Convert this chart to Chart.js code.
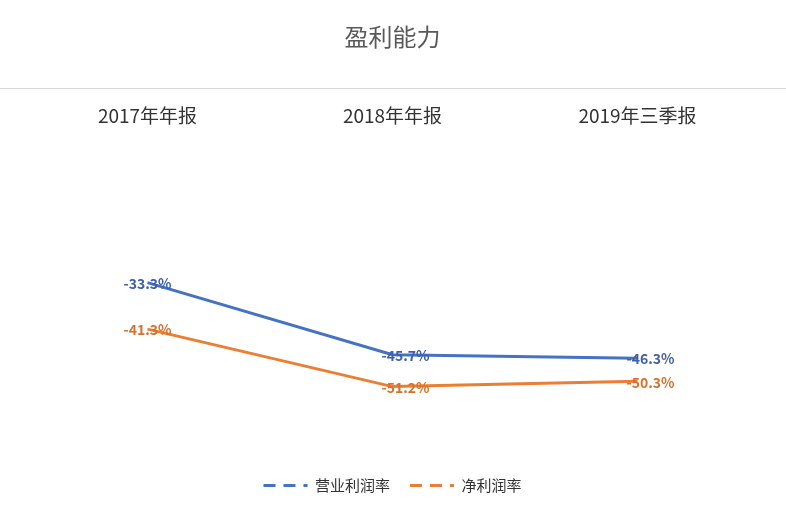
<!DOCTYPE html>
<html><head><meta charset="utf-8">
<script src="https://cdn.jsdelivr.net/npm/chart.js@4"></script>
<style>body{margin:0;background:#fff}#wrap{width:786px;height:513px}</style>
</head><body><div id="wrap"><canvas id="c"></canvas></div>
<script>
const categories = ['2017年年报', '2018年年报', '2019年三季报'];
const operatingMargin = [-33.3, -45.7, -46.3];
const netMargin = [-41.3, -51.2, -50.3];
const FONT = '"Noto Sans CJK SC", "Noto Sans", sans-serif';

// draw value labels centred on each point, plus the rule under the title
const valueLabels = {
    id: 'valueLabels',
    afterDatasetsDraw(chart) {
        const ctx = chart.ctx;
        ctx.save();
        ctx.strokeStyle = '#d9d9d9';
        ctx.lineWidth = 1;
        ctx.beginPath();
        ctx.moveTo(0, 88.5);
        ctx.lineTo(chart.width, 88.5);
        ctx.stroke();
        ctx.font = 'bold 14px ' + FONT;
        ctx.textAlign = 'center';
        ctx.textBaseline = 'middle';
        chart.data.datasets.forEach((ds, i) => {
            chart.getDatasetMeta(i).data.forEach((pt, j) => {
                ctx.fillStyle = ds.labelColor;
                ctx.fillText(ds.data[j].toFixed(1) + '%', pt.x + (j ? 13 : 0), pt.y + 1);
            });
        });
        ctx.restore();
    }
};

new Chart(document.getElementById('c'), {
    type: 'line',
    data: {
        labels: categories,
        datasets: [
            { label: '营业利润率', data: operatingMargin, borderColor: '#4472C4', backgroundColor: '#4472C4', labelColor: '#3f5fa8', borderWidth: 3, pointRadius: 0, tension: 0 },
            { label: '净利润率', data: netMargin, borderColor: '#ED7D31', backgroundColor: '#ED7D31', labelColor: '#d9702a', borderWidth: 3, pointRadius: 0, tension: 0 }
        ]
    },
    options: {
        responsive: true,
        maintainAspectRatio: false,
        animation: false,
        layout: { padding: { left: 25, right: 26, top: 10, bottom: 10 } },
        scales: {
            x: {
                position: 'top',
                offset: true,
                grid: { display: false, drawTicks: false },
                border: { display: false },
                ticks: { color: '#333', font: { family: FONT, size: 19 }, padding: 14 }
            },
            y: {
                display: false,
                min: -63.5, max: -9
            }
        },
        plugins: {
            title: { display: true, text: '盈利能力', color: '#595959', font: { family: FONT, size: 24, weight: 'normal' }, padding: { top: 12, bottom: 40 } },
            legend: {
                position: 'bottom',
                labels: {
                    color: '#333', font: { family: FONT, size: 15 }, usePointStyle: true, pointStyleWidth: 44, padding: 20,
                    generateLabels(chart) {
                        return chart.data.datasets.map((ds, i) => ({
                            text: ds.label, strokeStyle: ds.borderColor, fillStyle: ds.borderColor, pointStyle: 'line',
                            lineWidth: 3, lineDash: [12, 8], datasetIndex: i, fontColor: '#333'
                        }));
                    }
                }
            },
            tooltip: { enabled: false }
        }
    },
    plugins: [valueLabels]
});
</script></body></html>
